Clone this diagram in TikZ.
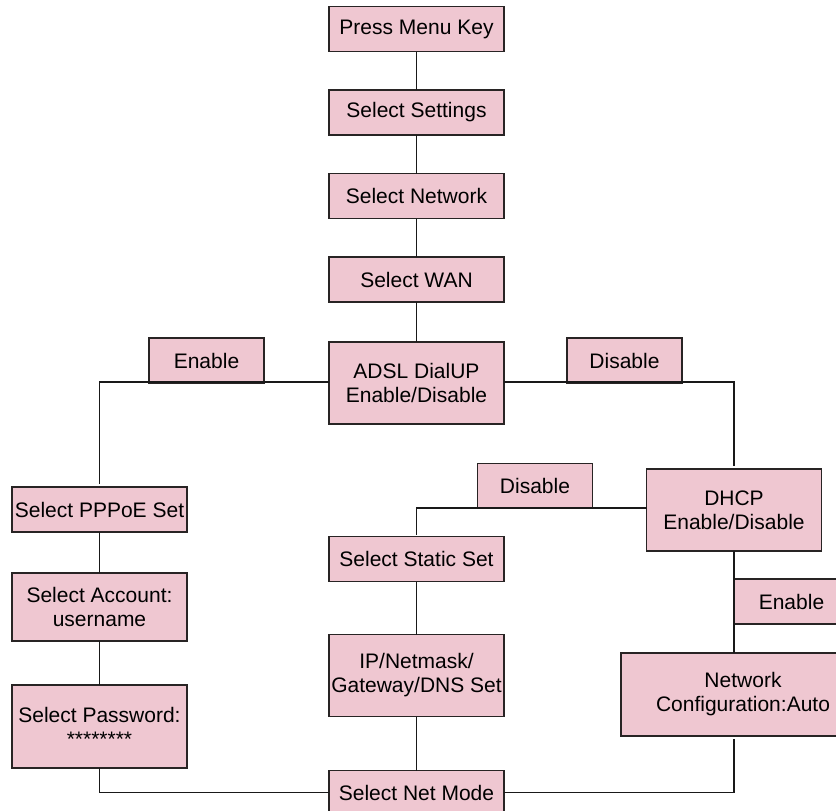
\documentclass[tikz,border=0pt]{standalone}
\usepackage{fontspec}
\setmainfont{Liberation Sans}
\usetikzlibrary{positioning}
\definecolor{boxpink}{RGB}{239,199,209}
\definecolor{edgegray}{RGB}{40,36,36}
\tikzset{
    box/.style={draw=edgegray,line width=1.6pt,fill=boxpink,align=center,
        inner sep=0pt,outer sep=0pt,minimum width=175pt,minimum height=45pt,
        font=\fontsize{21}{24}\selectfont},
    tall/.style={box,minimum height=82pt},
    tag/.style={box,minimum width=115pt},
    wire/.style={draw=black!90,line width=1.5pt}
}

\begin{document}
\begin{tikzpicture}[x=1pt,y=-1pt,node distance=38.5pt]
    \useasboundingbox (0,0) rectangle (836,811);
    \clip (0,0) rectangle (836,811);
    % main column
    \node[box] (menu) at (416.5,29) {Press Menu Key};
    \node[box] (settings) [below=of menu] {Select Settings};
    \node[box] (network) [below=of settings] {Select Network};
    \node[box] (wan) [below=of network] {Select WAN};
    \node[tall] (adsl) [below=40pt of wan] {ADSL DialUP\\Enable/Disable};
    \node[box] (static) at (416.5,559) {Select Static Set};
    \node[tall] (ip) [below=53pt of static] {IP/Netmask/\\Gateway/DNS Set};
    \node[box,minimum height=44pt] (netmode) [below=54pt of ip] {Select Net Mode};
    % PPPoE branch
    \node[box] (pppoe) at (99.5,509.5) {Select PPPoE Set};
    \node[box,minimum height=68pt] (account) [below=41pt of pppoe] {Select Account:\\username};
    \node[box,minimum height=83pt] (password) [below=44pt of account] {Select Password:\\********};
    % DHCP branch
    \node[tall] (dhcp) at (734,510) {DHCP\\Enable/Disable};
    \node[box,minimum width=244pt,minimum height=83pt] (netcfg) at (743,694.5) {Network\\Configuration:Auto};
    % branch labels
    \node[tag] (enA) at (206.5,360.5) {Enable};
    \node[tag] (disA) at (624.5,360.5) {Disable};
    \node[tag] (disB) at (535,486) {Disable};
    \node[tag] (enB) at (791.5,601.5) {Enable};

    \draw[wire] (menu) -- (settings) -- (network) -- (wan) -- (adsl);
    \draw[wire] (static) -- (ip) -- (netmode);
    \draw[wire] (pppoe) -- (account) -- (password);
    \draw[wire,shorten >=3pt] ([yshift=1pt]adsl.west) -| (pppoe.north);
    \draw[wire,shorten >=3pt] ([yshift=1pt]adsl.east) -| (dhcp.north);
    \draw[wire,shorten >=2pt] ([yshift=2pt]dhcp.west) -| (static.north);
    \draw[wire] (dhcp.south) -- (dhcp.south |- netcfg.north);
    \draw[wire,shorten <=3pt] (dhcp.south |- netcfg.south) |- (netmode.east);
    \draw[wire] (password.south) |- (netmode.west);
\end{tikzpicture}
\end{document}
